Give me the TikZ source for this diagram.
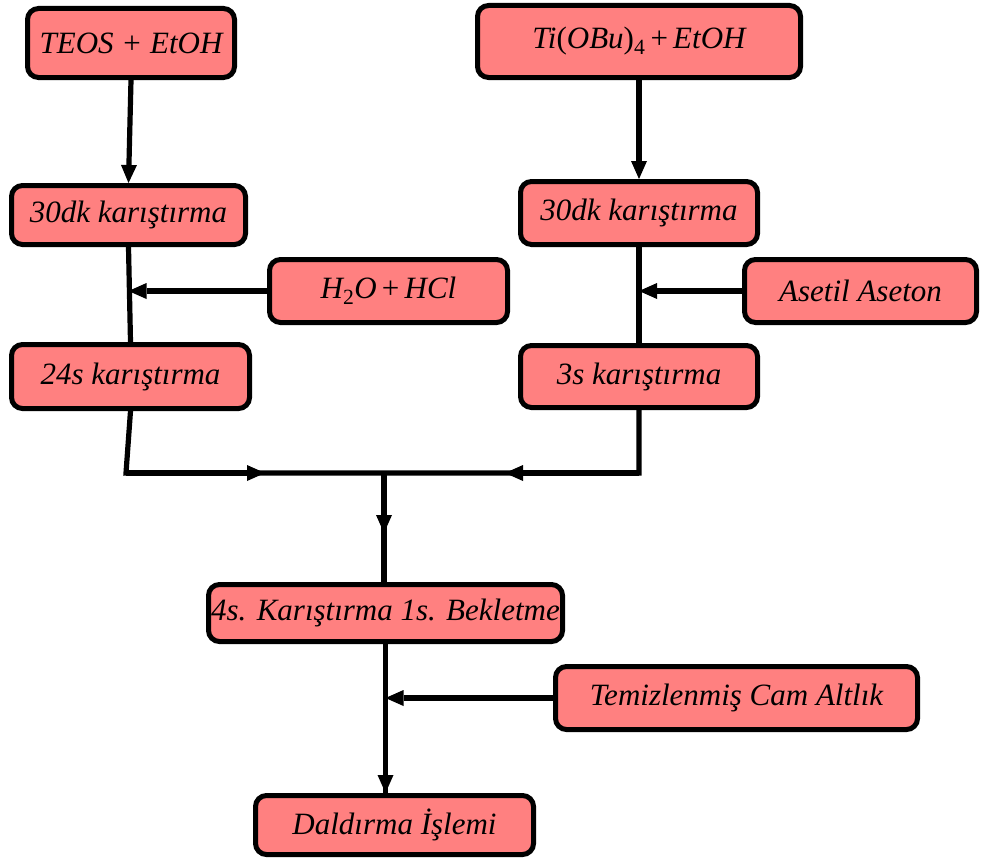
\documentclass[tikz,border=0pt]{standalone}
\usepackage{fontspec}
\setmainfont{Liberation Serif}
\usetikzlibrary{arrows.meta}
\definecolor{boxfill}{RGB}{255,128,128}
\begin{document}
\begin{tikzpicture}[x=1pt,y=-1pt,
  stage/.style={draw=black, line width=5pt, fill=boxfill, rounded corners=11pt,
    inner sep=0pt, align=center, font=\fontsize{31}{36}\selectfont\itshape},
  flow/.style={line width=5.2pt, -{Triangle[length=18pt,width=16pt,line width=0pt]}},
  link/.style={line width=5.2pt}]
\useasboundingbox (0,0) rectangle (981,859);

% left branch
\node[stage, minimum width=207pt, minimum height=69pt] (teos) at (131,43) {TEOS + EtOH};
\node[stage, minimum width=234pt, minimum height=59pt] (l30) at (128.5,215) {30dk karıştırma};
\node[stage, minimum width=238pt, minimum height=63pt] (h2o) at (388.5,291)
  {H\textsubscript{\upshape 2}O\,{\upshape +}\,HCl};
\node[stage, minimum width=238pt, minimum height=64pt] (s24) at (130.5,376.5) {24s karıştırma};

% right branch
\node[stage, minimum width=323pt, minimum height=72pt] (ti) at (639,41.5)
  {Ti{\upshape (}OBu{\upshape )}\textsubscript{\upshape 4}\,{\upshape +}\,EtOH};
\node[stage, minimum width=237pt, minimum height=63pt] (r30) at (639,213) {30dk karıştırma};
\node[stage, minimum width=232pt, minimum height=63pt] (aset) at (860.5,291) {Asetil Aseton};
\node[stage, minimum width=237pt, minimum height=62pt] (s3) at (639,376.5) {3s karıştırma};

% common trunk
\node[stage, minimum width=354pt, minimum height=57pt] (s4) at (385.5,613) {4s. Karıştırma 1s. Bekletme};
\node[stage, minimum width=362pt, minimum height=63pt] (temiz) at (736.5,698) {Temizlenmiş Cam Altlık};
\node[stage, minimum width=278pt, minimum height=59pt] (dal) at (394.5,825) {Daldırma İşlemi};

% merge points
\coordinate (lc) at (126,473);
\coordinate (rc) at (s3.south |- lc);
\coordinate (jn) at (384,473);
\coordinate (la) at (265,473);
\coordinate (ra) at (505,473);
\coordinate (da) at (384,533);

% connectors
\draw[flow] (teos.south) -- (l30.north);
\draw[link] (l30.south) -- (s24.north);
\draw[flow] (h2o.west) -- (h2o.west -| l30.south);

\draw[flow] (ti.south) -- (r30.north);
\draw[link] (r30.south) -- (s3.north);
\draw[flow] (aset.west) -- (aset.west -| r30.south);

\draw[link, line cap=round] (s24.south) -- (lc) -- (rc) -- (s3.south);
\draw[flow] (lc) -- (la);
\draw[flow] (rc) -- (ra);
\draw[link] (jn) -- (jn |- s4.north);
\draw[flow] (jn) -- (da);

\draw[link] (s4.south) -- (s4.south |- dal.north);
\draw[flow] (temiz.west) -- (temiz.west -| s4.south);
\draw[flow] (s4.south) -- (s4.south |- dal.north);
\end{tikzpicture}
\end{document}
